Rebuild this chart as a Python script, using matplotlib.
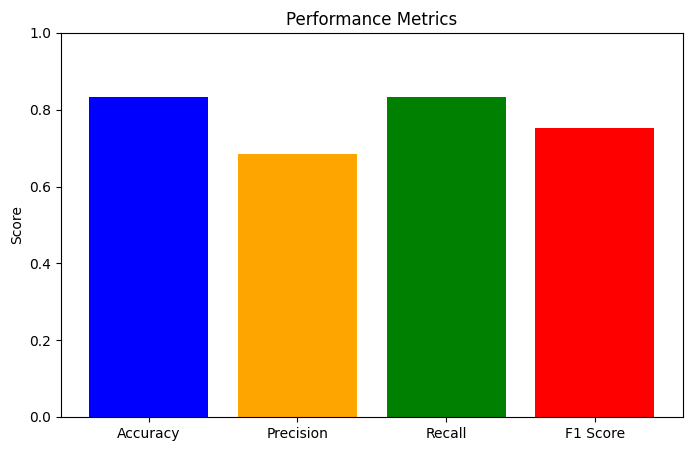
import matplotlib
matplotlib.use("Agg")

import matplotlib.pyplot as plt

# ---------- DATA ----------
metrics = ["Accuracy", "Precision", "Recall", "F1 Score"]
scores = [0.832, 0.686, 0.832, 0.753]
bar_colors = ["blue", "orange", "green", "red"]

fig, ax = plt.subplots(figsize=(6.91, 4.51), dpi=100)
fig.subplots_adjust(left=0.0883, right=0.988, bottom=0.0754, top=0.927)

ax.bar(metrics, scores, color=bar_colors)
ax.set_ylim(0, 1)
ax.set_ylabel("Score")
ax.set_title("Performance Metrics")

fig.savefig("out.png", dpi=100)
